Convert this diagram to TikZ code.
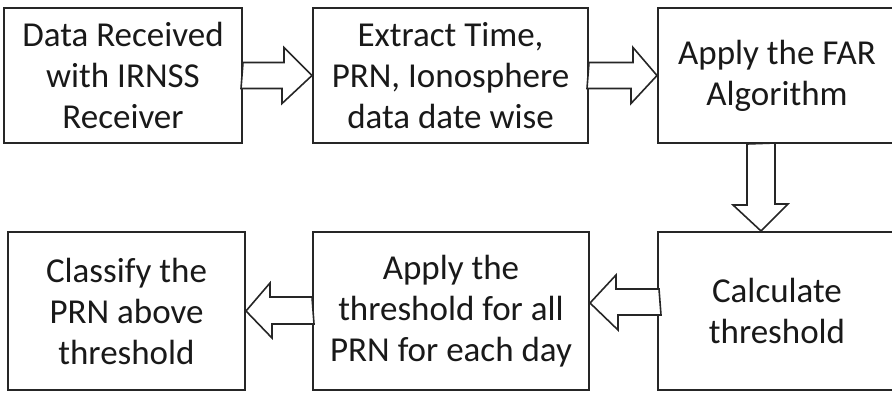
\documentclass[tikz,border=0pt]{standalone}
\usepackage{fontspec}
\setmainfont{Carlito}
\usetikzlibrary{calc}

\begin{document}
\begin{tikzpicture}[
		x=0.5pt, y=-0.5pt,
		stage/.style	={ draw=black!85, line width=1pt,
			align=center, text=black!90,
			font=\fontsize{17.5pt}{20.5pt}\selectfont,
			inner sep=0pt, minimum height=67.5pt,
		},
		fat/.style	={ draw=black!85, line width=0.8pt,
			line join=miter, fill=white,
		},
	]
	
	\clip (0,0) rectangle (892,392);
	
	% top row
	\node [stage, minimum width=119pt] (d1) at (123,75.5) {Data Received\\with IRNSS\\Receiver};
	\node [stage, minimum width=137.5pt] (d2) at (450.5,75.5) {Extract Time,\\PRN, Ionosphere\\data date wise};
	\node [stage, minimum width=119pt] (d3) at (777,75.5) {Apply the FAR\\Algorithm};
	
	% bottom row
	\node [stage, minimum width=118.5pt, minimum height=79pt] (d4) at (126.5,311) {Classify the\\PRN above\\threshold};
	\node [stage, minimum width=138pt, minimum height=79pt] (d5) at (451,311) {Apply the\\threshold for all\\PRN for each day};
	\node [stage, minimum width=119pt, minimum height=79pt] (d6) at (777,311) {Calculate\\threshold};
	
	% block arrows
	\draw [fat] (d1.east) ++(0,-13) -- ++(41,0) -- ++(0,-15) -- (d2.west)
			-- ++(-30,28) -- ++(0,-15) -- ++(-41,0) -- cycle;
	\draw [fat] (d2.east) ++(0,-13) -- ++(44,0) -- ++(0,-15) -- (d3.west)
			-- ++(-26,28) -- ++(0,-15) -- ++(-44,0) -- cycle;
	\draw [fat] (d3.south) ++(-30,0) -- ++(0,61) -- ++(-14,0) -- ($(d6.north)+(-16,0)$)
			-- ++(27,-27) -- ++(-13,0) -- ++(0,-61) -- cycle;
	\draw [fat] (d6.west) ++(2,-22) -- ++(-43,0) -- ++(0,-14) -- ($(d5.east)+(0,-8)$)
			-- ++(28,27) -- ++(0,-15) -- ++(43,0) -- cycle;
	\draw [fat] (d5.west) ++(0,-14) -- ++(-42,0) -- ++(0,-14) -- (d4.east)
			-- ++(26,27) -- ++(0,-14) -- ++(42,0) -- cycle;
	
\end{tikzpicture}
\end{document}
